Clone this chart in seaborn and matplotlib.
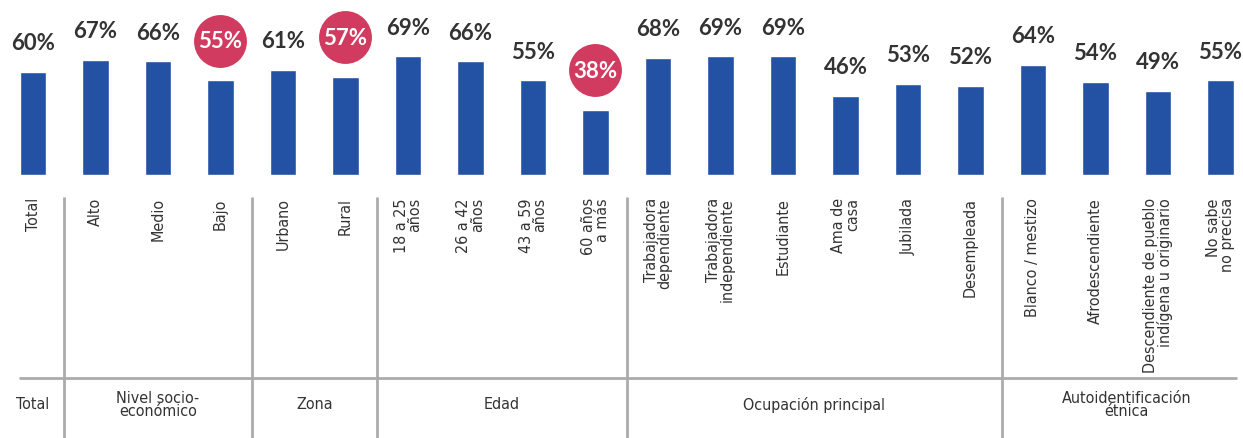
import matplotlib
matplotlib.use("Agg")
import matplotlib.pyplot as plt
import seaborn as sns

# bar categories (tick labels) and values in percent
categories = [
    "Total", "Alto", "Medio", "Bajo", "Urbano", "Rural",
    "18 a 25\naños", "26 a 42\naños", "43 a 59\naños", "60 años\na más",
    "Trabajadora\ndependiente", "Trabajadora\nindependiente", "Estudiante",
    "Ama de\ncasa", "Jubilada", "Desempleada",
    "Blanco / mestizo", "Afrodescendiente",
    "Descendiente de pueblo\nindígena u originario", "No sabe\nno precisa",
]
values = [60, 67, 66, 55, 61, 57, 69, 66, 55, 38, 68, 69, 69, 46, 53, 52, 64, 54, 49, 55]
highlighted = ["Bajo", "Rural", "60 años\na más"]

# group band below the tick labels: name, first bar index, last bar index
group_names = ["Total", "Nivel socio-\neconómico", "Zona", "Edad",
               "Ocupación principal", "Autoidentificación\nétnica"]
group_first = [0, 1, 4, 6, 10, 16]
group_last = [0, 3, 5, 9, 15, 19]

BLUE = "#2351a4"
RED = "#d13b5f"
GREY = "#ababab"
TEXT = "#333333"

sns.set_style("white")
plt.rcParams["font.family"] = ["DejaVu Sans"]
plt.rcParams["font.stretch"] = "condensed"

W, H = 1243, 439
fig = plt.figure(figsize=(W / 100, H / 100), dpi=100)
ax = fig.add_axes([0, 263 / H, 1, 176 / H])
band = fig.add_axes([0, 0, 1, 263 / H])

sns.barplot(x=categories, y=values, color=BLUE, saturation=1, width=0.42, ax=ax)

xmin = -33 / 62.5
xmax = xmin + W / 62.5
ax.set_xlim(xmin, xmax)
ax.set_ylim(0, 102.3)
sns.despine(ax=ax, left=True, bottom=True)
ax.set_yticks([])
ax.set_ylabel("")
ax.set_xticks(range(len(categories)))
ax.set_xticklabels(categories, rotation=90, ha="center", va="top",
                   multialignment="right", fontsize=11.5, color=TEXT,
                   fontstretch="condensed", linespacing=0.88)
ax.tick_params(axis="x", length=0, pad=16)

for i, (cat, v) in enumerate(zip(categories, values)):
    if cat in highlighted:
        y = v + 23
        ax.scatter([i], [y], s=1450, color=RED, clip_on=False, zorder=3,
                   linewidths=0)
        ax.text(i, y, f"{v}%", ha="center", va="center", color="white",
                fontsize=16, fontweight="bold", family="Lato", zorder=4)
    else:
        ax.text(i, v + 17, f"{v}%", ha="center", va="center", color=TEXT,
                fontsize=16, fontweight="bold", family="Lato")

# group band with separators
band.set_xlim(xmin, xmax)
band.set_ylim(H, 176)
band.axis("off")
for last in group_last[:-1]:
    band.vlines(last + 0.5, 198, H, color=GREY, lw=2)
band.hlines(379, -0.22, 19.26, color=GREY, lw=2)
for name, a, b in zip(group_names, group_first, group_last):
    band.text((a + b) / 2, 405, name, ha="center", va="center",
              fontsize=11.5, color=TEXT, linespacing=0.88,
              fontstretch="condensed")

fig.savefig("out.png", dpi=100)
